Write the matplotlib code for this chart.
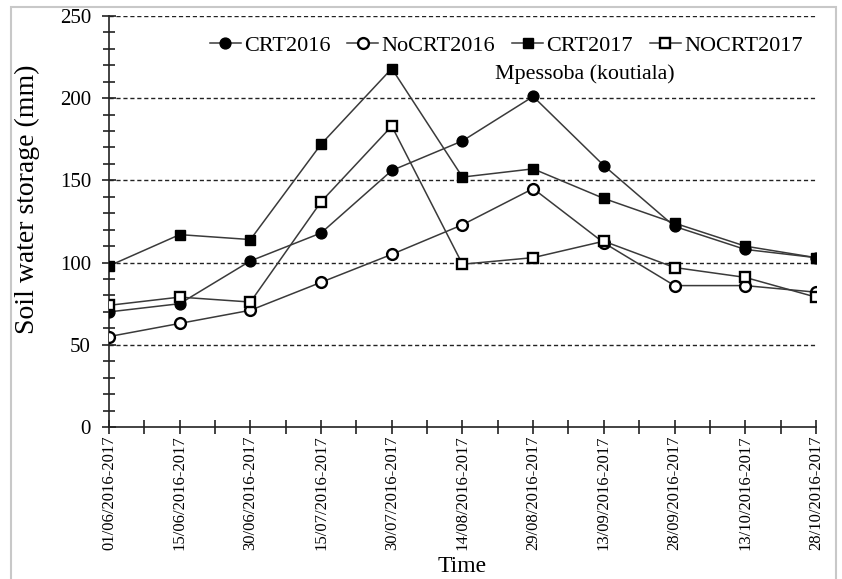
import matplotlib
matplotlib.use("Agg")
import matplotlib.pyplot as plt
from matplotlib.ticker import MultipleLocator, FixedLocator
from matplotlib.patches import Rectangle

dates = ["01/06/2016-2017", "15/06/2016-2017", "30/06/2016-2017", "15/07/2016-2017",
         "30/07/2016-2017", "14/08/2016-2017", "29/08/2016-2017", "13/09/2016-2017",
         "28/09/2016-2017", "13/10/2016-2017", "28/10/2016-2017"]
crt2016 = [70, 75, 101, 118, 156, 174, 201, 159, 122, 108, 103]
nocrt2016 = [55, 63, 71, 88, 105, 123, 145, 112, 86, 86, 82]
crt2017 = [98, 117, 114, 172, 218, 152, 157, 139, 124, 110, 103]
nocrt2017 = [74, 79, 76, 137, 183, 99, 103, 113, 97, 91, 79]

plt.rcParams['font.family'] = ['Liberation Serif', 'DejaVu Serif']

fig = plt.figure(figsize=(8.42, 5.79), dpi=100)
ax = fig.add_axes([0.1295, 0.2625, 0.8395, 0.71])

x = list(range(len(dates)))
lc = '#3a3a3a'
ms = 7.8
ax.plot(x, crt2016, color=lc, lw=1.1, marker='o', ms=ms, mfc='black', mec='black', label='CRT2016', zorder=3)
ax.plot(x, nocrt2016, color=lc, lw=1.1, marker='o', ms=ms, mfc='white', mec='black', mew=1.7, label='NoCRT2016', zorder=3)
ax.plot(x, crt2017, color=lc, lw=1.1, marker='s', ms=ms, mfc='black', mec='black', label='CRT2017', zorder=3)
ax.plot(x, nocrt2017, color=lc, lw=1.1, marker='s', ms=ms, mfc='white', mec='black', mew=1.7, label='NOCRT2017', zorder=3)

ax.set_xlim(0, len(dates) - 1)
ax.set_ylim(0, 250)
ax.yaxis.set_major_locator(MultipleLocator(50))
ax.yaxis.set_minor_locator(MultipleLocator(10))
ax.set_xticks(x)
ax.set_xticklabels(dates, rotation=90, fontsize=12)
ax.xaxis.set_minor_locator(FixedLocator([i + 0.5 for i in x[:-1]]))
ax.tick_params(axis='both', which='both', direction='inout', color='#222222', width=1.2)
ax.tick_params(axis='y', which='major', length=10, labelsize=15, pad=8)
ax.tick_params(axis='y', which='minor', length=8)
ax.tick_params(axis='x', which='major', length=10, pad=1)
ax.tick_params(axis='x', which='minor', length=10)

for v in [50, 100, 150, 200, 250]:
    ax.axhline(v, color='#222222', lw=1.0, ls=(0, (3, 2)), zorder=1)

for s in ['top', 'right']:
    ax.spines[s].set_visible(False)
for s in ['left', 'bottom']:
    ax.spines[s].set_color('#222222')
    ax.spines[s].set_linewidth(1.2)

ax.set_ylabel('Soil water storage (mm)', fontsize=20)
ax.yaxis.set_label_coords(-0.0976, 0.555)
ax.set_xlabel('Time', fontsize=17, labelpad=4)

leg = ax.legend(loc='upper right', ncol=4, frameon=False, fontsize=16,
                bbox_to_anchor=(1.0, 0.985), handlelength=1.4, columnspacing=0.75,
                handletextpad=0.15, borderaxespad=0.2)
ax.text(0.673, 0.858, 'Mpessoba (koutiala)', transform=ax.transAxes, fontsize=15.8,
        ha='center', va='center')

fig.patches.append(Rectangle((0.013, -0.01), 0.98, 0.998, transform=fig.transFigure,
                             fill=False, edgecolor='#c8c8c8', lw=1.5))

fig.savefig('out.png', dpi=100)
